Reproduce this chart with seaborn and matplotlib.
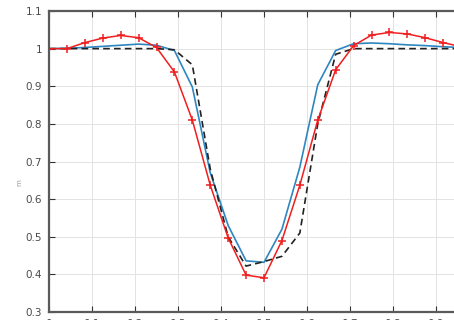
import numpy as np
import pandas as pd
import matplotlib
matplotlib.use("Agg")
import matplotlib.pyplot as plt
import seaborn as sns

# 25 sample points from 0 to 1 (step 1/24)
x_vals = [i / 24 for i in range(25)]

blue_vals = [1.0, 1.001, 1.003, 1.006, 1.009, 1.012, 1.009, 0.995, 0.898, 0.67,
             0.53, 0.436, 0.432, 0.52, 0.685, 0.904, 0.995, 1.013, 1.015, 1.013,
             1.010, 1.008, 1.005, 1.003, 1.0]
black_vals = [1.0, 1.0, 1.0, 1.0, 1.0, 1.0, 1.0, 0.997, 0.957, 0.68,
              0.50, 0.422, 0.434, 0.448, 0.51, 0.80, 0.985, 1.0, 1.0, 1.0,
              1.0, 1.0, 1.0, 1.0, 1.0]
red_vals = [1.0, 1.0, 1.016, 1.028, 1.035, 1.029, 1.003, 0.938, 0.81, 0.637,
            0.497, 0.398, 0.391, 0.49, 0.637, 0.81, 0.944, 1.008, 1.036, 1.043,
            1.039, 1.029, 1.016, 1.005, 1.0]

x_ticks = [0, 0.1, 0.2, 0.3, 0.4, 0.5, 0.6, 0.7, 0.8, 0.9, 1]
x_ticklabels = ["0", "0.1", "0.2", "0.3", "0.4", "0.5", "0.6", "0.7", "0.8", "0.9", "1"]
y_ticks = [0.3, 0.4, 0.5, 0.6, 0.7, 0.8, 0.9, 1.0, 1.1]
y_ticklabels = ["0.3", "0.4", "0.5", "0.6", "0.7", "0.8", "0.9", "1", "1.1"]

df = pd.DataFrame({"x": x_vals, "blue": blue_vals, "black": black_vals, "red": red_vals})

sns.set_style("whitegrid")
plt.rcParams["font.family"] = ["DejaVu Sans"]

fig = plt.figure(figsize=(4.54, 3.2), dpi=100)
# axes run past the right edge, like the cropped original
ax = fig.add_axes([49 / 454, 8 / 320, 430 / 454, 301 / 320])

sns.lineplot(data=df, x="x", y="blue", ax=ax, color="#2e86c1", linewidth=1.2)
sns.lineplot(data=df, x="x", y="black", ax=ax, color="#222222", linewidth=1.2,
             linestyle=(0, (4, 2.5)))
sns.lineplot(data=df, x="x", y="red", ax=ax, color="#f01e1e", linewidth=1.1,
             marker="+", markersize=6, markeredgewidth=1.1, markeredgecolor="#f01e1e")

ax.set_xlim(0, 1)
ax.set_ylim(0.3, 1.1)
ax.set_xticks(x_ticks)
ax.set_xticklabels(x_ticklabels)
ax.set_yticks(y_ticks)
ax.set_yticklabels(y_ticklabels)

ax.grid(True, color="#e3e3e3", linewidth=0.7)
for side in ["left", "bottom", "top"]:
    ax.spines[side].set_visible(True)
    ax.spines[side].set_color("#5a5a5a")
    ax.spines[side].set_linewidth(1.6)
ax.spines["right"].set_visible(False)

ax.tick_params(axis="both", direction="in", length=4, width=0.8, color="#333333",
               labelsize=7.5, labelcolor="#4a4a4a", pad=5)
ax.tick_params(axis="x", top=True, bottom=True)
ax.tick_params(axis="y", left=True)

ax.set_xlabel("")
ax.set_ylabel("m", fontsize=5, color="#9a9a9a")
ax.yaxis.set_label_coords(-0.063, 0.43)

fig.savefig("out.png", dpi=100)
